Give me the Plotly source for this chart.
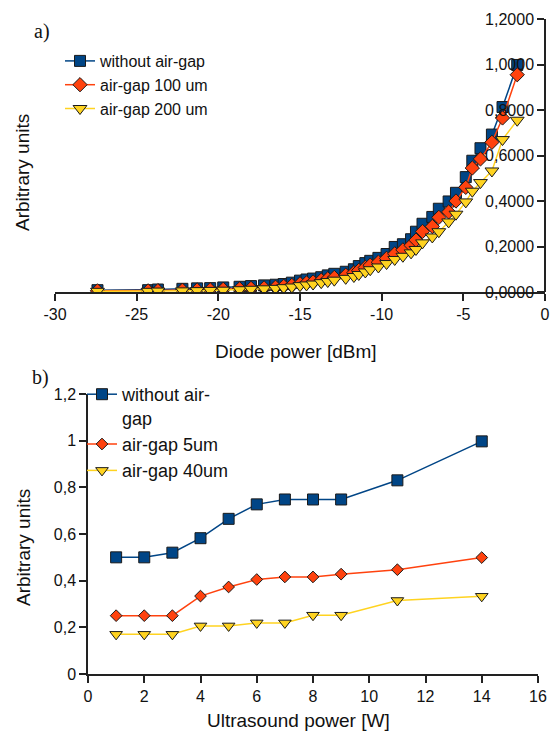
import plotly.graph_objects as go

# ---------------- data: chart a) ----------------
diode_power = [-27.4, -24.3, -23.7, -22.2, -21.3, -20.5, -19.7, -18.7, -18.0, -17.2,
               -16.5, -16.0, -15.5, -15.0, -14.6, -14.2, -13.7, -13.3, -12.9, -12.2,
               -11.7, -11.4, -11.0, -10.7, -10.2, -9.7, -9.2, -8.7, -8.2, -7.9,
               -7.5, -6.9, -6.5, -5.9, -5.45, -4.85, -4.45, -3.95, -3.25, -2.6, -1.7]
a_without = [0.008, 0.008, 0.011, 0.014, 0.016, 0.017, 0.020, 0.023, 0.026, 0.029,
             0.032, 0.035, 0.041, 0.050, 0.055, 0.059, 0.065, 0.073, 0.080, 0.089,
             0.100, 0.114, 0.127, 0.137, 0.150, 0.167, 0.198, 0.210, 0.232, 0.265,
             0.300, 0.330, 0.366, 0.398, 0.436, 0.505, 0.577, 0.632, 0.692, 0.813, 0.998]
a_gap100 = [0.005, 0.005, 0.006, 0.008, 0.009, 0.010, 0.012, 0.014, 0.016, 0.018,
            0.021, 0.025, 0.029, 0.036, 0.040, 0.044, 0.052, 0.058, 0.064, 0.074,
            0.085, 0.095, 0.108, 0.118, 0.131, 0.148, 0.168, 0.185, 0.205, 0.228,
            0.266, 0.288, 0.328, 0.352, 0.400, 0.460, 0.545, 0.585, 0.658, 0.765, 0.955]
a_gap200 = [0.003, 0.003, 0.004, 0.005, 0.006, 0.007, 0.008, 0.010, 0.012, 0.014,
            0.016, 0.019, 0.022, 0.028, 0.031, 0.035, 0.041, 0.046, 0.052, 0.060,
            0.068, 0.077, 0.088, 0.098, 0.110, 0.125, 0.143, 0.157, 0.172, 0.187,
            0.216, 0.242, 0.265, 0.308, 0.342, 0.396, 0.443, 0.481, 0.532, 0.670, 0.755]
a_names = ["without air-gap", "air-gap 100 um", "air-gap 200 um"]
a_xticks = [-30, -25, -20, -15, -10, -5, 0]
a_xticklabels = ["-30", "-25", "-20", "-15", "-10", "-5", "0"]
a_yticks = [0, 0.2, 0.4, 0.6, 0.8, 1.0, 1.2]

# ---------------- data: chart b) ----------------
us_power = [1, 2, 3, 4, 5, 6, 7, 8, 9, 11, 14]
b_without = [0.50, 0.50, 0.52, 0.582, 0.665, 0.727, 0.748, 0.748, 0.748, 0.83, 0.997]
b_gap5 = [0.25, 0.25, 0.25, 0.334, 0.373, 0.405, 0.416, 0.416, 0.428, 0.447, 0.499]
b_gap40 = [0.17, 0.17, 0.17, 0.206, 0.206, 0.219, 0.219, 0.252, 0.252, 0.315, 0.333]
b_names = ["without air-<br>gap", "air-gap 5um", "air-gap 40um"]
b_xticks = [0, 2, 4, 6, 8, 10, 12, 14, 16]
b_yticks = [0, 0.2, 0.4, 0.6, 0.8, 1.0, 1.2]

colors = ["#004586", "#ff420e", "#ffd320"]
symbols = ["square", "diamond", "triangle-down"]
FONT = "Liberation Sans, Arial, sans-serif"
W, H = 552, 742

fig = go.Figure()

a_sizes = [11, 11, 12]
for name, ys, c, s, sz in zip(a_names, [a_without, a_gap100, a_gap200], colors, symbols, a_sizes):
    fig.add_trace(go.Scatter(
        x=diode_power, y=ys, name=name, mode="lines+markers",
        xaxis="x", yaxis="y", legend="legend",
        line=dict(color=c, width=1.5),
        marker=dict(symbol=s, size=sz, color=c, line=dict(color="#1a1a1a", width=1)),
    ))

b_sizes = [11, 9, 11]
for name, ys, c, s, sz in zip(b_names, [b_without, b_gap5, b_gap40], colors, symbols, b_sizes):
    fig.add_trace(go.Scatter(
        x=us_power, y=ys, name=name, mode="lines+markers",
        xaxis="x2", yaxis="y2", legend="legend2",
        line=dict(color=c, width=1.5),
        marker=dict(symbol=s, size=sz, color=c, line=dict(color="#1a1a1a", width=1)),
    ))

axcol = "#222222"
tickfont = dict(family=FONT, size=16, color="#111111")

def px_x(p):
    return p / W

def px_y(p):
    return 1 - p / H

common = dict(ticklen=7, tickwidth=1.5, tickcolor=axcol, showline=True, linecolor=axcol,
              linewidth=1.5, showgrid=False, zeroline=False, tickfont=tickfont,
              automargin=False, ticks="outside")

fig.update_layout(
    width=W, height=H,
    margin=dict(l=0, r=0, t=0, b=0, autoexpand=False),
    paper_bgcolor="white", plot_bgcolor="white",
    separators=",.",
    showlegend=True,
    xaxis=dict(
        domain=[px_x(55), px_x(545)], anchor="y", range=[-30, 0],
        tickmode="array", tickvals=a_xticks, ticktext=a_xticklabels, **common,
    ),
    yaxis=dict(
        domain=[px_y(292), px_y(19)], anchor="free", position=px_x(545), side="left",
        range=[0, 1.2], tickmode="array", tickvals=a_yticks, tickformat=".4f", **common,
    ),
    xaxis2=dict(
        domain=[px_x(88), px_x(538)], anchor="y2", range=[0, 16],
        tickmode="array", tickvals=b_xticks, **common,
    ),
    yaxis2=dict(
        domain=[px_y(674), px_y(394)], anchor="x2", range=[0, 1.2],
        tickmode="array", tickvals=b_yticks, tickformat="~g", **common,
    ),
    legend=dict(
        x=px_x(60), y=px_y(44), xanchor="left", yanchor="top",
        bgcolor="rgba(0,0,0,0)", borderwidth=0,
        font=dict(family=FONT, size=16, color="#111111"),
        itemwidth=30, tracegroupgap=0,
    ),
    legend2=dict(
        x=px_x(82), y=px_y(376), xanchor="left", yanchor="top",
        bgcolor="rgba(0,0,0,0)", borderwidth=0, valign="top",
        font=dict(family=FONT, size=18, color="#111111"),
        itemwidth=30, tracegroupgap=0,
    ),
)

ann = []
def label(text, x, y, size, angle=0, family=FONT):
    ann.append(dict(text=text, x=px_x(x), y=px_y(y), xref="paper", yref="paper",
                    xanchor="center", yanchor="middle", showarrow=False, textangle=angle,
                    font=dict(family=family, size=size, color="#111111")))

label("a)", 42, 32, 20, family="Liberation Serif, Times New Roman, serif")
label("b)", 40, 377, 20, family="Liberation Serif, Times New Roman, serif")
label("Diode power [dBm]", 296, 351, 19)
label("Ultrasound power [W]", 298, 720, 19)
label("Arbitrary units", 22, 173, 19, angle=-90)
label("Arbitrary units", 23, 548, 19, angle=-90)
fig.update_layout(annotations=ann)

fig.write_html("out.html")
